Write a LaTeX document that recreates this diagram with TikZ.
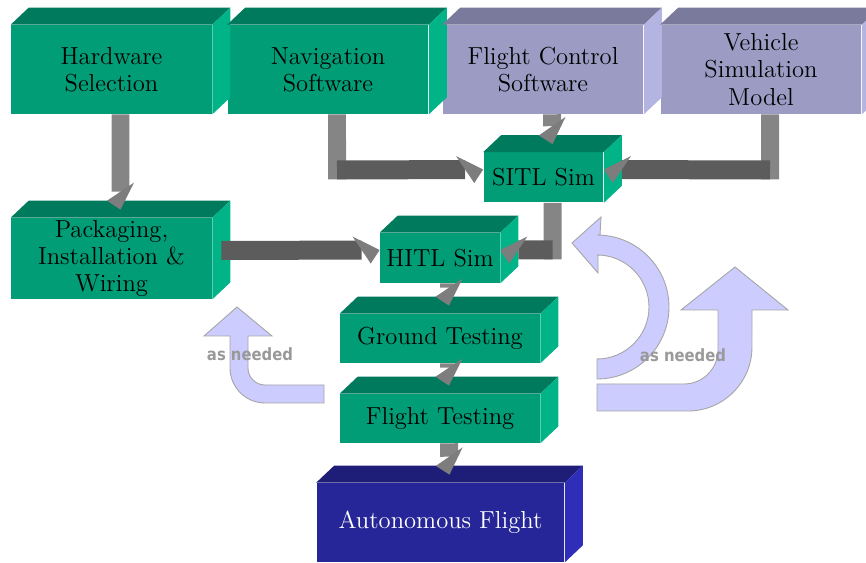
\documentclass[tikz,border=0pt]{standalone}
\usepackage{fontspec}
\usetikzlibrary{arrows.meta}
\newfontfamily\notefont{DejaVu Sans}
\definecolor{frontG}{RGB}{0,157,119}
\definecolor{topG}  {RGB}{0,122,93}
\definecolor{sideG} {RGB}{0,180,136}
\definecolor{frontP}{RGB}{155,155,196}
\definecolor{topP}  {RGB}{122,122,156}
\definecolor{sideP} {RGB}{180,180,226}
\definecolor{frontB}{RGB}{38,38,152}
\definecolor{topB}  {RGB}{30,30,120}
\definecolor{sideB} {RGB}{46,46,184}
\definecolor{lightL}{RGB}{204,204,255}
\definecolor{edgeL} {RGB}{165,165,165}
\definecolor{barV}  {RGB}{133,133,133}
\definecolor{barH}  {RGB}{92,92,92}
\definecolor{tipC}  {RGB}{125,125,125}
\definecolor{noteC} {RGB}{153,153,153}

\begin{document}
\begin{tikzpicture}[x=0.02cm, y=-0.02cm,
  block/.style={fill=frontG, inner sep=0pt, align=center, font=\fontsize{14}{15.5}\selectfont},
  wide/.style={minimum width=4.02cm, minimum height=1.78cm},
  flat/.style={minimum width=4.0cm, minimum height=0.98cm},
  small/.style={minimum width=2.4cm, minimum height=1.0cm},
  vline/.style={draw=barV, line width=0.36cm},
  vbar/.style={vline, -{Triangle[width=0.54cm, length=0.36cm, slant=-0.67, line width=0pt, color=tipC]}},
  hright/.style={draw=barH, line width=0.38cm, -{Triangle[width=0.54cm, length=0.36cm, slant=-0.67, line width=0pt, color=tipC]}},
  hleft/.style={draw=barH, line width=0.38cm, -{Triangle[width=0.54cm, length=0.36cm, slant=0.67, line width=0pt, color=tipC]}},
  redo/.style={fill=lightL, draw=edgeL, line width=0.5pt},
  note/.style={text=noteC, font=\notefont\fontsize{9.6}{11}\selectfont\bfseries}]

  \useasboundingbox (0,0) rectangle (866,563);

  % the "as needed" loops
  \path[redo] (324,403) -- (265,403) arc[start angle=270, end angle=180, radius=0.7cm]
    -- (230,336) -- (204,336) -- (237,307) -- (272,336) -- (248,336) -- (248,368)
    arc[start angle=180, end angle=270, radius=0.34cm] -- (324,385) -- cycle;
  \path[redo] (597,379) arc[start angle=-90, end angle=90, radius=1.44cm]
    -- (600,235) -- (601,217) -- (572,243) -- (598,273) -- (598,255) -- (597,255)
    arc[start angle=90, end angle=-90, radius=1.04cm] -- cycle;
  \path[redo] (597,411) -- (688,411) arc[start angle=270, end angle=360, radius=1.28cm]
    -- (752,310) -- (788,310) -- (735,267) -- (681,310) -- (718,310) -- (718,350)
    arc[start angle=0, end angle=-90, radius=0.68cm] -- (597,384) -- cycle;

  \node[block, wide] (hw)  at (111.5,69.5) {Hardware\\Selection};
  \node[block, wide] (nav) at (328,69.5)   {Navigation\\Software};
  \node[block, wide, fill=frontP] (fcs) at (543,69.5) {Flight Control\\Software};
  \node[block, wide, fill=frontP] (vsm) at (761,69.5) {Vehicle\\Simulation\\Model};
  \node[block, small] (sitl) at (543.5,177.5) {SITL Sim};
  \node[block, wide, minimum height=1.62cm] (pack) at (111.5,258.5) {Packaging,\\Installation \&\\Wiring};
  \node[block, small] (hitl)   at (440,258)   {HITL Sim};
  \node[block, flat]  (ground) at (440,338.5) {Ground Testing};
  \node[block, flat]  (flight) at (440,418.5) {Flight Testing};
  \node[block, fill=frontB, text=white, minimum width=4.96cm, minimum height=1.58cm] (auto) at (440.5,522.5) {Autonomous Flight};

  % top and side faces
  \foreach \n/\tc/\sc in {hw/topG/sideG, nav/topG/sideG, fcs/topP/sideP, vsm/topP/sideP,
      sitl/topG/sideG, pack/topG/sideG, hitl/topG/sideG, ground/topG/sideG,
      flight/topG/sideG, auto/topB/sideB} {
    \fill[\tc] (\n.north west) -- ++(18,-17) -- ([shift={(18,-17)}]\n.north east) -- (\n.north east) -- cycle;
    \fill[\sc] (\n.north east) -- ++(18,-17) -- ([shift={(18,-17)}]\n.south east) -- (\n.south east) -- cycle;
  }

  \coordinate (K1) at (337,170);
  \coordinate (K2) at (770,170);
  \coordinate (K3) at (552.5,250);

  \draw[vbar] ([xshift=0.18cm]hw.south) -- ([shift={(9,-8)}]pack.north);
  \draw[vline] ([xshift=0.18cm]nav.south) -- ([yshift=-0.19cm]K1);
  \draw[hright] (K1) -- ([yshift=0.16cm]sitl.west);
  \draw[vbar] ([xshift=0.18cm]fcs.south) -- ([shift={(9,-8)}]sitl.north);
  \draw[vline] ([xshift=0.18cm]vsm.south) -- ([yshift=-0.19cm]K2);
  \draw[hleft] (K2) -- ([yshift=0.16cm]sitl.east);
  \draw[vline] ([xshift=0.18cm]sitl.south) -- ([yshift=-0.19cm]K3);
  \draw[hleft] (K3) -- ([yshift=0.16cm]hitl.east);
  \draw[hright] ([shift={(9,-8)}]pack.east) -- ([yshift=0.16cm]hitl.west);
  \draw[vbar] ([xshift=0.18cm]hitl.south) -- ([shift={(9,-8)}]ground.north);
  \draw[vbar] ([xshift=0.18cm]ground.south) -- ([shift={(9,-8)}]flight.north);
  \draw[vbar] ([xshift=0.18cm]flight.south) -- ([shift={(9,-8)}]auto.north);

  \node[note] (n1) at (250,354) {\scalebox{0.88}[1]{as needed}};
  \node[note] (n2) at (683,355) {\scalebox{0.88}[1]{as needed}};
\end{tikzpicture}
\end{document}
